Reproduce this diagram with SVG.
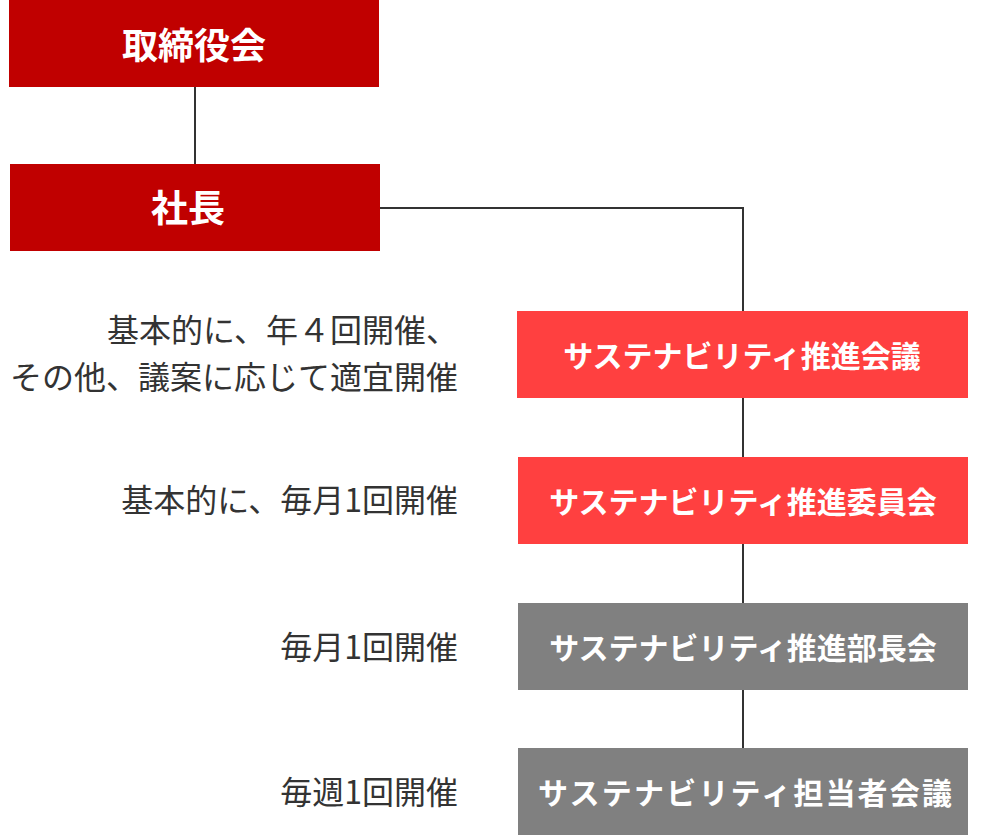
<svg xmlns="http://www.w3.org/2000/svg" width="988" height="835" viewBox="0 0 988 835">
<style>
.box-dark{fill:#C00000}
.box-red{fill:#FF4040}
.box-gray{fill:#808080}
.t{font-family:"Noto Sans CJK JP","Noto Sans",sans-serif;font-weight:bold;fill:#FFFFFF;text-anchor:middle;dominant-baseline:central}
.lbl{font-family:"Noto Sans CJK JP","Noto Sans",sans-serif;font-size:32px;fill:#333333;text-anchor:end;dominant-baseline:central}
.conn{stroke:#333333;stroke-width:2;fill:none}
</style>
<rect width="988" height="835" fill="#FFFFFF"/>
<g id="connectors">
<line class="conn" x1="195" y1="87" x2="195" y2="164"/>
<polyline class="conn" points="380,208 743,208 743,311"/>
<line class="conn" x1="743" y1="398" x2="743" y2="457"/>
<line class="conn" x1="743" y1="544" x2="743" y2="603"/>
<line class="conn" x1="743" y1="690" x2="743" y2="748"/>
</g>
<g id="node-board">
<rect class="box-dark" x="9" y="0" width="370" height="87"/>
<text class="t" x="194" y="43" font-size="36">取締役会</text>
</g>
<g id="node-president">
<rect class="box-dark" x="10" y="164" width="370" height="87"/>
<text class="t" x="188" y="206" font-size="37">社長</text>
</g>
<g id="node-council">
<rect class="box-red" x="517" y="311" width="451" height="87"/>
<text class="t" x="742" y="354" font-size="30">サステナビリティ推進会議</text>
</g>
<g id="node-committee">
<rect class="box-red" x="518" y="457" width="450" height="87"/>
<text class="t" x="743" y="500" font-size="30">サステナビリティ推進委員会</text>
</g>
<g id="node-managers">
<rect class="box-gray" x="518" y="603" width="450" height="87"/>
<text class="t" x="743" y="646" font-size="30">サステナビリティ推進部長会</text>
</g>
<g id="node-staff">
<rect class="box-gray" x="518" y="748" width="450" height="87"/>
<text class="t" x="745" y="791" font-size="30" textLength="414" lengthAdjust="spacing">サステナビリティ担当者会議</text>
</g>
<g id="labels">
<text class="lbl" x="458" y="328">基本的に、年４回開催、</text>
<text class="lbl" x="458" y="375">その他、議案に応じて適宜開催</text>
<text class="lbl" x="458" y="498">基本的に、毎月1回開催</text>
<text class="lbl" x="458" y="645">毎月1回開催</text>
<text class="lbl" x="458" y="790">毎週1回開催</text>
</g>
</svg>
